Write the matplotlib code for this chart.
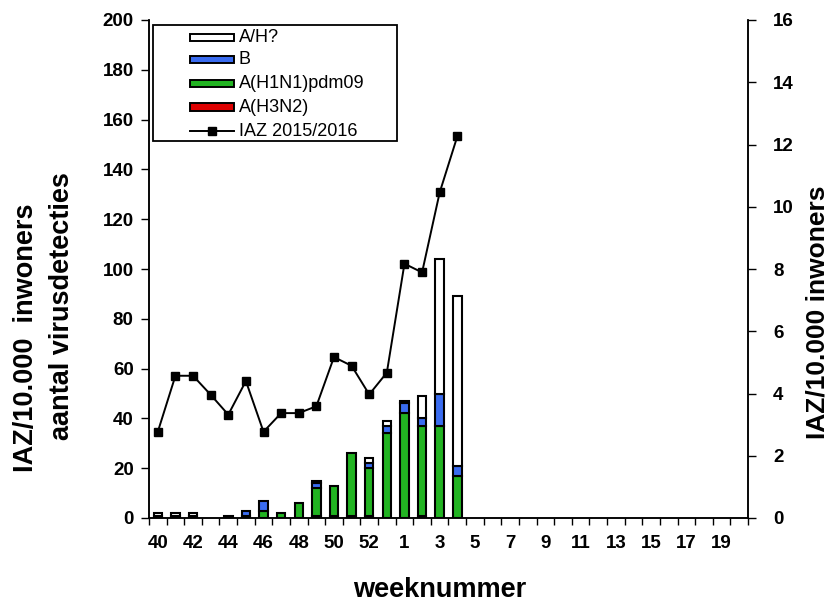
import matplotlib
matplotlib.use("Agg")
import matplotlib.pyplot as plt
from matplotlib.patches import Rectangle
from matplotlib.lines import Line2D
import numpy as np

weeks = list(range(40, 54)) + list(range(1, 21))
h3n2 = [1, 1, 1, 0, 0, 0, 0, 0, 0, 1, 1, 1, 1, 0, 0, 1, 0, 0]
h1n1 = [0, 0, 0, 0, 1, 1, 3, 2, 6, 11, 12, 25, 19, 34, 42, 36, 37, 17]
virb = [0, 0, 0, 0, 0, 2, 4, 0, 0, 2, 0, 0, 2, 3, 4, 3, 13, 4]
ah = [1, 1, 1, 0, 0, 0, 0, 0, 0, 1, 0, 0, 2, 2, 1, 9, 54, 68]
iaz = [2.77, 4.57, 4.57, 3.96, 3.32, 4.40, 2.77, 3.37, 3.37, 3.59, 5.17,
       4.89, 3.97, 4.67, 8.17, 7.89, 10.46, 12.26]
legend_labels = ['A/H?', 'B', 'A(H1N1)pdm09', 'A(H3N2)', 'IAZ 2015/2016']

plt.rcParams['font.family'] = ['Liberation Sans', 'DejaVu Sans']

W, H = 829, 605
fig = plt.figure(figsize=(W/100, H/100), dpi=100)
ax = fig.add_axes([149/W, 1-518/H, (748-149)/W, (518-20)/H])
ax2 = ax.twinx()

def fx(px):
    return px / W

def fy(py):
    return 1 - py / H

n = len(weeks)
nd = len(h3n2)
x = np.arange(nd) + 0.5
w = 0.48
ec = 'black'
lw = 1.5
c_red = '#dd0000'
c_green = '#22b422'
c_blue = '#3a6cf0'
h3 = np.array(h3n2); h1 = np.array(h1n1); bb = np.array(virb); aa = np.array(ah)

def draw(vals, bottom, color):
    mask = vals > 0
    ax.bar(x[mask], vals[mask], w, bottom=bottom[mask], color=color,
           edgecolor=ec, linewidth=lw, zorder=2)

draw(h3, np.zeros(nd), c_red)
draw(h1, h3, c_green)
draw(bb, h3 + h1, c_blue)
draw(aa, h3 + h1 + bb, 'white')

ax2.plot(x, iaz, color='black', lw=1.4, marker='s', markersize=6)

ax.set_xlim(0, n)
ax.set_ylim(0, 200)
ax2.set_ylim(0, 16)
ax.set_yticks(range(0, 201, 20))
ax2.set_yticks(range(0, 17, 2))

ax.set_xticks(np.arange(0, n + 1), minor=False)
ax.set_xticklabels([])
ax.set_xticks(np.arange(0, n, 2) + 0.5, minor=True)
ax.set_xticklabels([str(wk) for wk in weeks[::2]], minor=True)
ax.tick_params(axis='x', which='minor', length=0, pad=12)
ax.tick_params(axis='x', which='major', direction='out', length=5, width=1)

for a in (ax, ax2):
    a.spines['top'].set_visible(False)
    for s in a.spines.values():
        s.set_linewidth(1.1)
ax.tick_params(axis='y', direction='out', length=6, width=1, pad=5)
ax2.tick_params(axis='y', direction='out', length=6, width=1, pad=12)
for lab in ax.get_yticklabels() + ax2.get_yticklabels() + ax.get_xticklabels(minor=True):
    lab.set_fontweight('bold')
    lab.set_fontsize(13.5)

ax.set_zorder(ax2.get_zorder() + 1)
ax.patch.set_visible(False)

# legend drawn in figure pixel layout
fig.patches.append(Rectangle((fx(153), fy(141)), fx(397) - fx(153), fy(25) - fy(141),
                             transform=fig.transFigure, facecolor='white',
                             edgecolor='black', linewidth=1.3, zorder=10))
rows = [37, 59, 83, 107, 131]
colors = ['white', c_blue, c_green, c_red]
for i, lab in enumerate(legend_labels):
    yc = rows[i]
    if i < 4:
        fig.patches.append(Rectangle((fx(190), fy(yc + 3.5)), fx(234) - fx(190), fy(yc - 3.5) - fy(yc + 3.5),
                                     transform=fig.transFigure, facecolor=colors[i],
                                     edgecolor='black', linewidth=1.4, zorder=11))
    else:
        fig.lines.append(Line2D([fx(190), fx(234)], [fy(yc), fy(yc)], transform=fig.transFigure,
                                color='black', lw=1.4, zorder=11))
        fig.lines.append(Line2D([fx(212)], [fy(yc)], transform=fig.transFigure,
                                color='black', marker='s', markersize=5.5, zorder=12))
    fig.text(fx(239), fy(yc), lab, ha='left', va='center', fontsize=13, zorder=12)

fig.text(fx(26), fy(338), 'IAZ/10.000  inwoners', rotation=90, ha='center', va='center',
         fontsize=19.5, fontweight='bold')
fig.text(fx(62), fy(306), 'aantal virusdetecties', rotation=90, ha='center', va='center',
         fontsize=19.5, fontweight='bold')
fig.text(fx(818), fy(312), 'IAZ/10.000 inwoners', rotation=90, ha='center', va='center',
         fontsize=19, fontweight='bold')
fig.text(fx(440), fy(590), 'weeknummer', ha='center', va='center',
         fontsize=19.5, fontweight='bold')

fig.savefig('out.png', dpi=100)
